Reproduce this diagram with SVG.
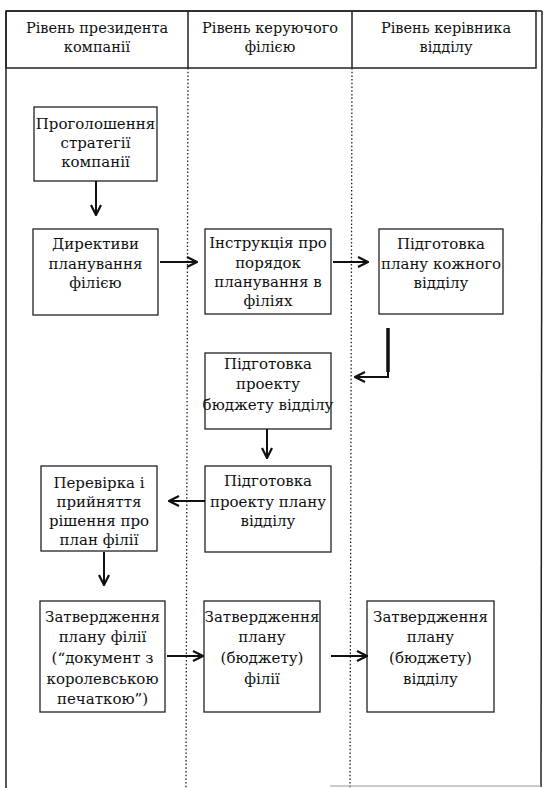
<svg xmlns="http://www.w3.org/2000/svg" width="549" height="788" viewBox="0 0 549 788">
<style>
.box{fill:#fff;stroke:#222;stroke-width:1.3}
.frame{fill:none;stroke:#222;stroke-width:1.5}
.dot{fill:none;stroke:#222;stroke-width:1.3;stroke-dasharray:1.5 2.2}
text{font-family:'DejaVu Serif','Liberation Serif',serif;font-size:15px;fill:#111;text-anchor:middle}
.h{font-size:14.5px}
.arr{fill:none;stroke:#111;stroke-width:2}
</style>
<defs>
<marker id="ah" viewBox="0 0 12 12" refX="11" refY="6" markerWidth="12" markerHeight="12" markerUnits="userSpaceOnUse" orient="auto">
<path d="M1,1 L11,6 L1,11" fill="none" stroke="#111" stroke-width="2.2"/>
</marker>
</defs>
<rect width="549" height="788" fill="#fff"/>
<g id="frame">
<line class="frame" x1="6" y1="11" x2="6" y2="788"/>
<line class="frame" x1="6" y1="11" x2="542" y2="11"/>
<line class="frame" x1="542" y1="11" x2="541" y2="787"/>
<rect class="frame" x="6" y="11" width="530" height="57"/>
<line class="frame" x1="188" y1="11" x2="188" y2="68"/>
<line class="frame" x1="352" y1="11" x2="352" y2="68"/>
<line class="dot" x1="188" y1="68" x2="186" y2="788"/>
<line class="dot" x1="352" y1="68" x2="350" y2="788"/>
<line x1="330" y1="786" x2="541" y2="786" stroke="#999" stroke-width="1"/>
</g>
<g id="header">
<text class="h" x="97" y="33">Рівень президента</text>
<text class="h" x="97" y="52">компанії</text>
<text class="h" x="270" y="33">Рівень керуючого</text>
<text class="h" x="270" y="52">філією</text>
<text class="h" x="446" y="33">Рівень керівника</text>
<text class="h" x="446" y="52">відділу</text>
</g>
<g id="n1">
<rect class="box" x="34" y="107" width="123" height="74"/>
<text x="95.5" y="129">Проголошення</text>
<text x="95.5" y="148">стратегії</text>
<text x="95.5" y="167">компанії</text>
</g>
<g id="n2">
<rect class="box" x="33" y="229" width="125" height="86"/>
<text x="95.5" y="249">Директиви</text>
<text x="95.5" y="269">планування</text>
<text x="95.5" y="288">філією</text>
</g>
<g id="n3">
<rect class="box" x="205" y="229" width="126" height="85"/>
<text x="268" y="248">Інструкція про</text>
<text x="268" y="268">порядок</text>
<text x="268" y="287">планування в</text>
<text x="268" y="306">філіях</text>
</g>
<g id="n4">
<rect class="box" x="379" y="229" width="124" height="85"/>
<text x="441" y="249">Підготовка</text>
<text x="441" y="269">плану кожного</text>
<text x="441" y="288">відділу</text>
</g>
<g id="n5">
<rect class="box" x="205" y="353" width="126" height="76"/>
<text x="268" y="369">Підготовка</text>
<text x="268" y="389">проекту</text>
<text x="268" y="410">бюджету відділу</text>
</g>
<g id="n6">
<rect class="box" x="205" y="466" width="126" height="86"/>
<text x="268" y="486">Підготовка</text>
<text x="268" y="507">проекту плану</text>
<text x="268" y="526">відділу</text>
</g>
<g id="n7">
<rect class="box" x="41" y="466" width="116" height="85"/>
<text x="99" y="488">Перевірка і</text>
<text x="99" y="507">прийняття</text>
<text x="99" y="526">рішення про</text>
<text x="99" y="545">план філії</text>
</g>
<g id="n8">
<rect class="box" x="40" y="601" width="125" height="111"/>
<text x="102.5" y="622">Затвердження</text>
<text x="102.5" y="642">плану філії</text>
<text x="102.5" y="663">(“документ з</text>
<text x="102.5" y="684">королевською</text>
<text x="102.5" y="704">печаткою”)</text>
</g>
<g id="n9">
<rect class="box" x="204" y="601" width="116" height="111"/>
<text x="262" y="622">Затвердження</text>
<text x="262" y="642">плану</text>
<text x="262" y="663">(бюджету)</text>
<text x="262" y="684">філії</text>
</g>
<g id="n10">
<rect class="box" x="367" y="601" width="127" height="111"/>
<text x="430.5" y="622">Затвердження</text>
<text x="430.5" y="642">плану</text>
<text x="430.5" y="663">(бюджету)</text>
<text x="430.5" y="684">відділу</text>
</g>
<g id="connectors">
<line class="arr" x1="96" y1="181" x2="96" y2="215" marker-end="url(#ah)"/>
<line class="arr" x1="160" y1="262" x2="197" y2="262" marker-end="url(#ah)"/>
<line class="arr" x1="333" y1="262" x2="368" y2="262" marker-end="url(#ah)"/>
<path class="arr" d="M388,328 V377 H355" marker-end="url(#ah)"/>
<line x1="388" y1="328" x2="388" y2="372" stroke="#111" stroke-width="3.5"/>
<line class="arr" x1="267" y1="429" x2="267" y2="458" marker-end="url(#ah)"/>
<line class="arr" x1="205" y1="501" x2="169" y2="501" marker-end="url(#ah)"/>
<line class="arr" x1="104" y1="552" x2="104" y2="585" marker-end="url(#ah)"/>
<line class="arr" x1="167" y1="656" x2="203" y2="656" marker-end="url(#ah)"/>
<line class="arr" x1="331" y1="656" x2="367" y2="656" marker-end="url(#ah)"/>
</g>
</svg>
